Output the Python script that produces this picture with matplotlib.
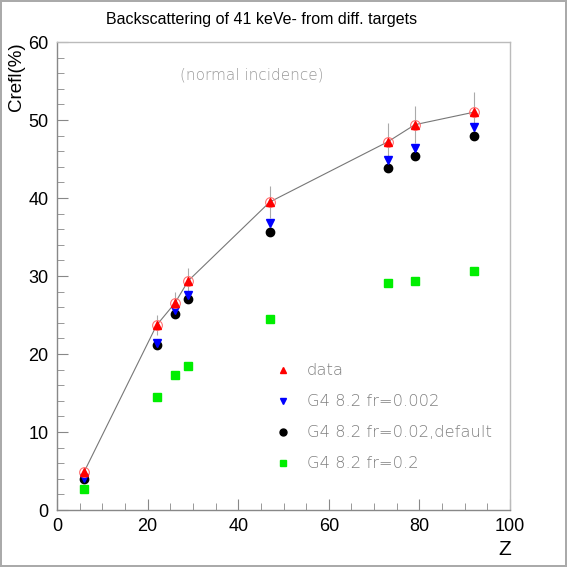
import matplotlib
matplotlib.use("Agg")
import matplotlib.pyplot as plt
from matplotlib.ticker import MultipleLocator

plt.rcParams["font.family"] = ["Liberation Sans", "DejaVu Sans"]

# Z of the targets
z = [6, 22, 26, 29, 47, 73, 79, 92]

# measured backscattering (%) with errors
data = [4.9, 23.7, 26.5, 29.4, 39.5, 47.2, 49.4, 51.0]
data_err = [0.3, 1.3, 1.4, 1.6, 2.0, 2.45, 2.4, 2.6]

# Geant4 8.2 simulations
g4_fr0002 = [4.15, 21.45, 25.6, 27.6, 36.75, 44.9, 46.4, 49.1]
g4_fr002 = [4.0, 21.15, 25.1, 27.0, 35.7, 43.8, 45.4, 47.9]
g4_fr02 = [2.7, 14.5, 17.3, 18.5, 24.45, 29.1, 29.3, 30.6]

labels = ["data", "G4 8.2 fr=0.002", "G4 8.2 fr=0.02,default", "G4 8.2 fr=0.2"]

fig = plt.figure(figsize=(5.67, 5.67), dpi=100)
fig.patch.set_edgecolor("#aaaaaa")
fig.patch.set_linewidth(1.5)
ax = fig.add_axes([0.1005, 0.1005, 0.799, 0.8254])

ax.errorbar(z, data, yerr=data_err, fmt="none", ecolor="#aaaaaa", elinewidth=0.8, zorder=1)
ax.plot(z, data, color="#777777", linewidth=0.8, zorder=2)
ax.plot(z, g4_fr02, "s", color="#00ee00", markersize=6, zorder=3)
ax.plot(z, g4_fr002, "o", color="black", markersize=6, zorder=3)
ax.plot(z, g4_fr0002, "v", color="blue", markersize=6, zorder=4)
ax.plot(z, data, "o", mfc="none", mec="#ff7070", mew=0.8, markersize=7, zorder=5)
ax.plot(z, data, "^", color="red", markersize=6, zorder=6)

# legend drawn by hand, like the original
leg_styles = [("^", "red"), ("v", "blue"), ("o", "black"), ("s", "#00ee00")]
for i, ((m, c), lab) in enumerate(zip(leg_styles, labels)):
    yy = 0.299 - i * 0.0665
    ax.plot(0.499, yy, m, color=c, markersize=5, transform=ax.transAxes, clip_on=False)
    ax.text(0.552, yy, lab, transform=ax.transAxes, color="#808080",
            fontsize=11.8, va="center", ha="left", family="DejaVu Sans", fontweight="light")

ax.text(0.2715, 0.929, "(normal incidence)", transform=ax.transAxes, color="#999999",
        fontsize=11, va="center", ha="left", family="DejaVu Sans", fontweight="light")

ax.set_xlim(0, 100)
ax.set_ylim(0, 60)
ax.xaxis.set_major_locator(MultipleLocator(20))
ax.xaxis.set_minor_locator(MultipleLocator(5))
ax.yaxis.set_major_locator(MultipleLocator(10))
ax.yaxis.set_minor_locator(MultipleLocator(2))
ax.tick_params(which="both", direction="in", color="#888888", top=False, right=False)
ax.tick_params(which="major", length=8, labelsize=13, pad=6)
ax.tick_params(which="minor", length=5)
for s in ax.spines.values():
    s.set_color("#888888")
    s.set_linewidth(1)
ax.spines["top"].set_color("#bbbbbb")
ax.spines["right"].set_color("#bbbbbb")

fig.text(0.461, 0.965, "Backscattering of 41 keVe- from diff. targets", ha="center", va="center", fontsize=11.5)
fig.text(0.029, 0.864, "Crefl(%)", rotation=90, ha="center", va="center", fontsize=13.5)
fig.text(0.891, 0.03, "Z", ha="center", va="center", fontsize=15)

fig.savefig("out.png", dpi=100, edgecolor=fig.get_edgecolor())
